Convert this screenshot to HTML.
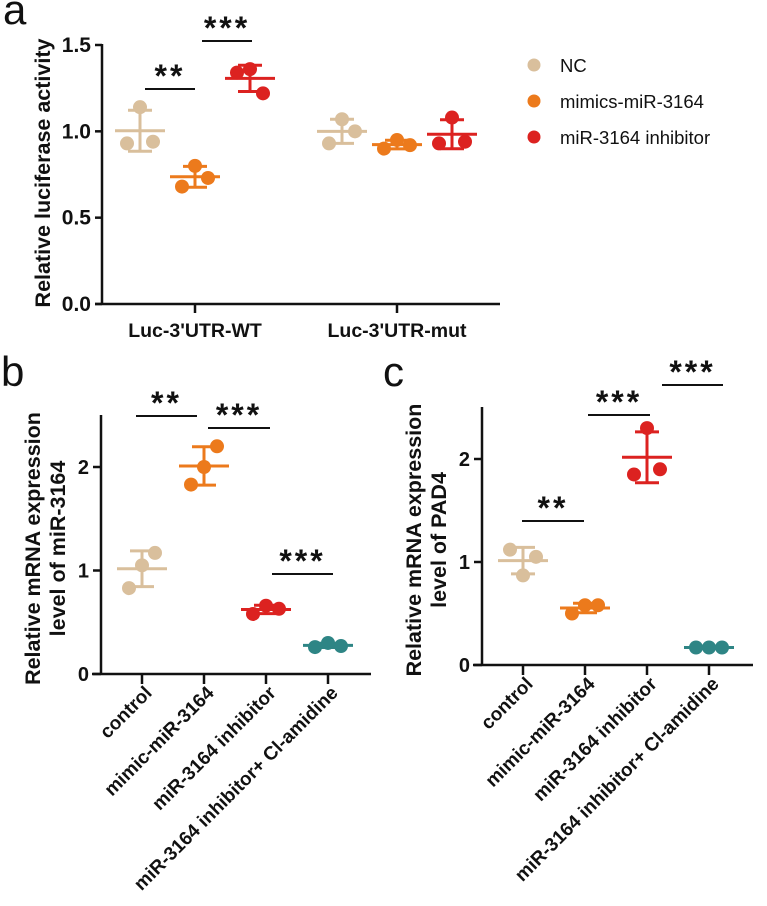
<!DOCTYPE html>
<html><head><meta charset="utf-8"><style>
body{margin:0;background:#fff}
svg{display:block;font-family:"Liberation Sans",Arial,sans-serif}
</style></head><body>
<svg id="fig" width="767" height="906" viewBox="0 0 767 906"></svg>
<script>
// ---- data ----
const colNC = "#d9bf9c", colMim = "#ec7a1c", colInh = "#dc2220", colCl = "#2e8585";
const aGroups = ["Luc-3'UTR-WT", "Luc-3'UTR-mut"];
const aSeries = ["NC", "mimics-miR-3164", "miR-3164 inhibitor"];
const aNC = [[1.14, 0.93, 0.94], [1.07, 0.93, 1.0]];
const aMim = [[0.80, 0.68, 0.73], [0.95, 0.90, 0.92]];
const aInh = [[1.36, 1.34, 1.22], [1.08, 0.93, 0.94]];
const aTicks = [0, 0.5, 1.0, 1.5];
const aTickLabels = ["0.0", "0.5", "1.0", "1.5"];
const bcCats = ["control", "mimic-miR-3164", "miR-3164 inhibitor", "miR-3164 inhibitor+ Cl-amidine"];
const bVals = [[1.05, 0.83, 1.17], [2.0, 1.83, 2.2], [0.66, 0.58, 0.63], [0.30, 0.26, 0.27]];
const cVals = [[0.87, 1.12, 1.05], [0.58, 0.50, 0.58], [2.30, 1.85, 1.90], [0.17, 0.17, 0.17]];
const bcTicks = [0, 1, 2];

const svg = document.getElementById('fig');
const NS = "http://www.w3.org/2000/svg";
function mk(tag, attrs, parent) {
  const e = document.createElementNS(NS, tag);
  for (const k in attrs) e.setAttribute(k, attrs[k]);
  (parent || svg).appendChild(e);
  return e;
}
function stats(v) {
  const m = v.reduce((a, b) => a + b, 0) / v.length;
  const sd = Math.sqrt(v.reduce((a, b) => a + (b - m) * (b - m), 0) / (v.length - 1));
  return [m, sd];
}
function group(vals, cx, Y, color, name) {
  const g = mk('g', {});
  
  
  const [m, sd] = stats(vals);
  mk('line', {x1: cx - 25, x2: cx + 25, y1: Y(m), y2: Y(m), stroke: color, 'stroke-width': 3}, g);
  mk('line', {x1: cx, x2: cx, y1: Y(m + sd), y2: Y(m - sd), stroke: color, 'stroke-width': 3}, g);
  mk('line', {x1: cx - 12, x2: cx + 12, y1: Y(m + sd), y2: Y(m + sd), stroke: color, 'stroke-width': 3}, g);
  mk('line', {x1: cx - 12, x2: cx + 12, y1: Y(m - sd), y2: Y(m - sd), stroke: color, 'stroke-width': 3}, g);
  vals.forEach((v, i) => {
    const c = mk('circle', {cx: cx + [0, -13, 13][i], cy: Y(v), r: 7, fill: color}, g);
    
    
  });
}
function sig(x1, x2, y, txt, name) {
  const g = mk('g', {});
  
  
  mk('line', {x1: x1, x2: x2, y1: y, y2: y, stroke: '#111', 'stroke-width': 2}, g);
  const t = mk('text', {x: (x1 + x2) / 2, y: y - 2, 'text-anchor': 'middle', 'font-size': 32, 'font-weight': 'bold', fill: '#111', 'letter-spacing': 3}, g);
  t.textContent = txt;
}
function txt(s, attrs, name) {
  const t = mk('text', Object.assign({fill: '#111'}, attrs));
  t.textContent = s;
  
  
  return t;
}

// ---- panel a ----
const aY = v => 304 - v * (304 - 45) / 1.5;
txt('a', {x: 3, y: 24, 'font-size': 42}, 'panel-a-label');
mk('line', {x1: 102, x2: 102, y1: 44, y2: 305, stroke: '#111', 'stroke-width': 2.5});
mk('line', {x1: 95, x2: 500, y1: 304, y2: 304, stroke: '#111', 'stroke-width': 2.5});
aTicks.forEach((t, i) => {
  mk('line', {x1: 95, x2: 102, y1: aY(t), y2: aY(t), stroke: '#111', 'stroke-width': 2.5});
  txt(aTickLabels[i], {x: 91, y: aY(t) + 7, 'text-anchor': 'end', 'font-size': 21, 'font-weight': 'bold'}, 'y-tick-label');
});
const aX = [195, 397];
aGroups.forEach((gname, i) => {
  mk('line', {x1: aX[i], x2: aX[i], y1: 304, y2: 313, stroke: '#111', 'stroke-width': 2.5});
  txt(gname, {x: aX[i], y: 337, 'text-anchor': 'middle', 'font-size': 19.5, 'font-weight': 'bold'}, 'x-tick-label');
  group(aNC[i], aX[i] - 55, aY, colNC, 'nc-' + i);
  group(aMim[i], aX[i], aY, colMim, 'mimics-' + i);
  group(aInh[i], aX[i] + 55, aY, colInh, 'inhibitor-' + i);
});
txt('Relative luciferase activity', {transform: 'translate(50,173) rotate(-90)', 'text-anchor': 'middle', 'font-size': 21.5, 'font-weight': 'bold'}, 'y-axis-title');
sig(145, 195, 89, '**', 'sig-a-1');
sig(202, 252, 41, '***', 'sig-a-2');
[colNC, colMim, colInh].forEach((c, i) => {
  const g = mk('g', {});
  
  
  mk('circle', {cx: 534, cy: 65 + i * 36, r: 6.5, fill: c}, g);
  const t = mk('text', {x: 560, y: 72 + i * 36, 'font-size': 18.5, fill: '#111'}, g);
  t.textContent = aSeries[i];
});

// ---- panels b, c ----
function panelBC(ox, y0, unit, top, xs, xEnd, vals, label, lx, ly, ytitle2, key) {
  const Y = v => y0 - v * unit;
  txt(label, {x: lx, y: ly, 'font-size': 42}, 'panel-' + key + '-label');
  mk('line', {x1: ox, x2: ox, y1: top, y2: y0 + 1, stroke: '#111', 'stroke-width': 2.5});
  mk('line', {x1: ox - 9, x2: xEnd, y1: y0, y2: y0, stroke: '#111', 'stroke-width': 2.5});
  bcTicks.forEach(t => {
    mk('line', {x1: ox - 8, x2: ox, y1: Y(t), y2: Y(t), stroke: '#111', 'stroke-width': 2.5});
    txt(String(t), {x: ox - 12, y: Y(t) + 7, 'text-anchor': 'end', 'font-size': 20, 'font-weight': 'bold'}, 'y-tick-label');
  });
  const cols = [colNC, colMim, colInh, colCl];
  bcCats.forEach((c, i) => {
    mk('line', {x1: xs[i], x2: xs[i], y1: y0, y2: y0 + 10, stroke: '#111', 'stroke-width': 2.5});
    txt(c, {transform: `translate(${xs[i] + 11},${y0 + 20}) rotate(-45)`, 'text-anchor': 'end', 'font-size': 19, 'font-weight': 'bold'}, 'x-tick-label');
    group(vals[i], xs[i], Y, cols[i], key + '-group-' + i);
  });
  const cy = (top + y0) / 2 + 4;
  txt('Relative  mRNA expression', {transform: `translate(${ox - 61},${cy}) rotate(-90)`, 'text-anchor': 'middle', 'font-size': 21.5, 'font-weight': 'bold'}, 'y-axis-title');
  txt(ytitle2, {transform: `translate(${ox - 36},${cy}) rotate(-90)`, 'text-anchor': 'middle', 'font-size': 21.5, 'font-weight': 'bold'}, 'y-axis-title-line2');
  return Y;
}
panelBC(101, 674, 103.5, 415, [142, 204, 266, 328], 371, bVals, 'b', 1, 386, 'level of miR-3164', 'b');
sig(136, 197, 416, '**', 'sig-b-1');
sig(208, 270, 428, '***', 'sig-b-2');
sig(272, 333, 574, '***', 'sig-b-3');
panelBC(482, 665, 103, 407, [523, 585, 647, 709], 753, cVals, 'c', 383, 386, 'level of PAD4', 'c');
sig(522, 584, 521, '**', 'sig-c-1');
sig(588, 650, 415, '***', 'sig-c-2');
sig(662, 723, 385, '***', 'sig-c-3');
</script>
</body></html>
